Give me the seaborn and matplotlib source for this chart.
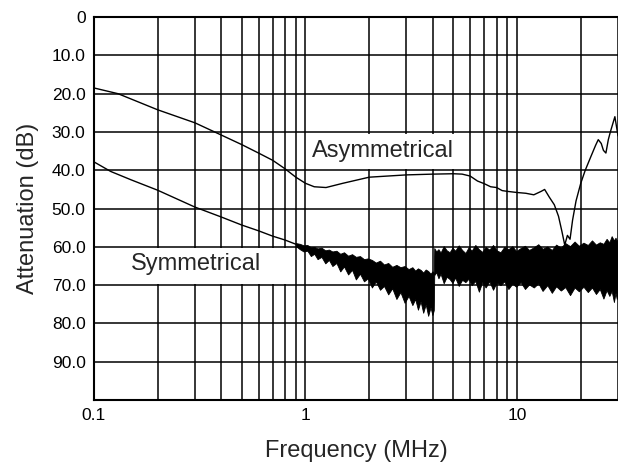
import numpy as np
import pandas as pd
import seaborn as sns
import matplotlib.pyplot as plt
from matplotlib.patches import Rectangle
from matplotlib.ticker import LogLocator, FixedLocator, FixedFormatter, NullFormatter

# --- datos ---
asym_freq = [0.1, 0.13, 0.2, 0.3, 0.4, 0.5, 0.6, 0.7, 0.8, 0.9, 1.0, 1.1, 1.25, 1.5,
             2.0, 3.0, 4.0, 5.0, 5.5, 6.0, 6.5, 7.0, 7.5, 8.0, 8.5, 9.0, 10.0, 11.0,
             12.0, 13.0, 13.5, 14.2, 15.0, 15.7, 16.3, 16.8, 17.3, 17.8, 18.3, 19.0,
             20.0, 21.0, 22.3, 23.5, 24.2, 25.0, 25.6, 26.3, 27.0, 27.6, 29.0, 30.0]
asym_db = [18.5, 20.0, 24.2, 27.6, 30.8, 33.3, 35.5, 37.4, 39.6, 41.8, 43.4, 44.3, 44.5, 43.4,
           41.8, 41.2, 41.0, 40.9, 41.0, 41.5, 42.8, 43.5, 44.3, 44.5, 45.3, 45.5, 45.8, 46.0,
           46.4, 45.5, 45.0, 47.0, 49.0, 52.0, 56.0, 59.5, 57.0, 58.0, 53.0, 48.0,
           43.4, 40.0, 36.5, 33.5, 32.0, 33.0, 34.8, 35.5, 32.0, 30.0, 26.0, 31.0]

sym_freq = [0.1, 0.12, 0.15, 0.2, 0.3, 0.4, 0.5, 0.6, 0.7, 0.8, 0.9]
sym_db = [37.8, 40.3, 42.5, 45.2, 49.6, 52.2, 54.3, 55.8, 57.2, 58.2, 59.3]

# banda ruidosa de la curva simetrica (envolvente superior / inferior)
band_freq = [0.9, 0.94, 0.98, 1.02, 1.06, 1.1, 1.14, 1.19, 1.24, 1.29,
             1.34, 1.4, 1.46, 1.52, 1.59, 1.66, 1.73, 1.81, 1.89, 1.97,
             2.06, 2.15, 2.25, 2.35, 2.46, 2.57, 2.69, 2.81, 2.94, 3.07,
             3.2, 3.3, 3.4, 3.5, 3.6, 3.7, 3.8, 3.9, 3.98, 4.04,
             4.06, 4.15, 4.25, 4.35, 4.5, 4.65, 4.8, 4.95, 5.1, 5.3,
             5.5, 5.7, 5.9, 6.1, 6.35, 6.6, 6.85, 7.1, 7.4, 7.7,
             8.0, 8.35, 8.7, 9.1, 9.5, 9.9, 10.4, 10.9, 11.4, 12.0,
             12.6, 13.2, 13.9, 14.6, 15.3, 16.1, 16.9, 17.8, 18.7, 19.6,
             20.6, 21.6, 22.6, 23.6, 24.6, 25.6, 26.5, 27.3, 28.0, 28.7,
             29.2, 29.6, 30.0]
band_upper = [59.0, 59.2, 59.6, 59.5, 60.1, 60.0, 60.4, 60.2, 60.9, 60.7,
              61.2, 61.0, 61.8, 61.4, 62.3, 61.9, 62.6, 62.4, 63.2, 63.0,
              63.4, 64.1, 63.6, 64.6, 64.2, 65.2, 64.7, 65.3, 65.0, 65.8,
              65.3, 66.2, 65.6, 66.0, 66.7, 65.9, 66.3, 67.0, 66.4, 66.6,
              60.3, 61.2, 60.6, 61.5, 59.8, 60.9, 61.4, 60.2, 61.0, 59.6,
              60.8, 61.6, 60.1, 61.0, 59.5, 60.6, 61.3, 60.0, 60.7, 59.5,
              60.9, 61.4, 60.0, 60.6, 59.8, 61.1, 60.3, 59.7, 60.8, 60.1,
              59.3, 60.5, 59.9, 60.8, 59.4, 60.2, 59.0, 59.8, 58.6, 59.7,
              58.9, 59.5, 58.3, 59.4, 58.8, 59.2, 57.9, 58.8, 57.2, 58.3,
              57.6, 58.4, 58.0]
band_lower = [59.8, 60.6, 61.2, 61.0, 62.4, 61.8, 63.2, 62.6, 64.3, 63.4,
              65.0, 64.2, 66.4, 65.1, 67.2, 66.0, 68.5, 67.0, 69.0, 68.2,
              70.6, 69.0, 71.2, 70.2, 72.4, 70.8, 73.6, 71.8, 74.6, 72.8,
              75.2, 73.6, 76.4, 74.2, 77.2, 75.0, 78.0, 75.8, 77.8, 76.5,
              67.4, 66.6, 68.2, 67.0, 69.5, 67.8, 68.4, 69.4, 68.0, 70.2,
              68.6, 69.2, 68.3, 70.0, 68.9, 71.7, 69.1, 70.6, 69.0, 71.2,
              69.3, 70.0, 69.0, 71.0, 69.6, 70.4, 69.2, 71.0, 69.8, 70.6,
              69.5, 71.5, 70.0, 72.0, 70.3, 71.4, 70.5, 72.6, 70.6, 71.6,
              70.4, 71.8, 70.6, 72.3, 71.0, 73.5, 71.3, 72.8, 71.5, 74.4,
              72.0, 73.6, 72.5]

y_ticks = [0, 10, 20, 30, 40, 50, 60, 70, 80, 90]
y_labels = ['0', '10.0', '20.0', '30.0', '40.0', '50.0', '60.0', '70.0', '80.0', '90.0']
x_ticks = [0.1, 1, 10]
x_labels = ['0.1', '1', '10']

df = pd.DataFrame({
    'freq': asym_freq + sym_freq,
    'db': asym_db + sym_db,
    'curva': ['Asymmetrical'] * len(asym_freq) + ['Symmetrical'] * len(sym_freq),
})

sns.set_style('white')
plt.rcParams['font.family'] = ['Liberation Sans', 'DejaVu Sans']

fig = plt.figure(figsize=(6.18, 4.62), dpi=100)
ax = fig.add_axes([0.152, 0.134, 0.848, 0.829])

sns.lineplot(data=df, x='freq', y='db', hue='curva',
             palette={'Asymmetrical': 'black', 'Symmetrical': 'black'},
             linewidth=1.0, legend=False, ax=ax, zorder=4, sort=False,
             estimator=None)
ax.fill_between(band_freq, band_upper, band_lower, facecolor='black',
                edgecolor='black', lw=0.6, zorder=4)

ax.set_xscale('log')
ax.set_xlim(0.1, 30)
ax.set_ylim(100, 0)

ax.xaxis.set_major_locator(FixedLocator(x_ticks))
ax.xaxis.set_major_formatter(FixedFormatter(x_labels))
ax.xaxis.set_minor_locator(LogLocator(base=10, subs=np.arange(2, 10)))
ax.xaxis.set_minor_formatter(NullFormatter())
ax.set_yticks(y_ticks)
ax.set_yticklabels(y_labels)
ax.tick_params(which='both', length=0, labelsize=12.5, colors='black', pad=6)

ax.grid(True, which='both', color='black', linewidth=1.1, zorder=1)
ax.set_axisbelow(True)

for side in ['left', 'top', 'bottom']:
    ax.spines[side].set_color('black')
    ax.spines[side].set_linewidth(1.5)
ax.spines['right'].set_visible(False)

ax.set_xlabel('Frequency (MHz)', fontsize=17, labelpad=12)
ax.set_ylabel('Attenuation (dB)', fontsize=17, labelpad=9)

# cajas blancas tras las etiquetas
ax.add_patch(Rectangle((1.02, 30.4), 5.8 - 1.02, 9.2, facecolor='white',
                       edgecolor='none', zorder=2))
ax.add_patch(Rectangle((0.1, 60.4), 0.88 - 0.1, 9.2, facecolor='white',
                       edgecolor='none', zorder=2))
ax.text(1.07, 34.9, 'Asymmetrical', fontsize=17, ha='left', va='center', zorder=3)
ax.text(0.304, 64.4, 'Symmetrical', fontsize=17, ha='center', va='center', zorder=3)

fig.savefig('out.png', dpi=100)
